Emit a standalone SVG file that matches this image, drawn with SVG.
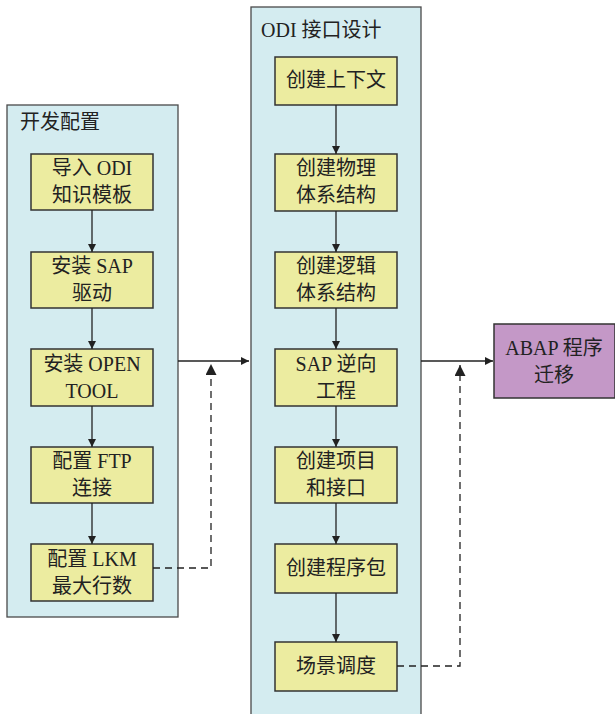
<svg xmlns="http://www.w3.org/2000/svg" width="615" height="714" viewBox="0 0 615 714">
<defs>
<style>
.grp{fill:#d4ecf0;stroke:#4a4a4a;stroke-width:1.3}
.nd{fill:#ececa0;stroke:#333;stroke-width:1.5}
.abap{fill:#c498c7;stroke:#333;stroke-width:1.5}
text{font-family:"Liberation Serif","Noto Sans CJK SC",serif;font-size:20px;fill:#222;dominant-baseline:central}
.c{text-anchor:middle}
.ln{stroke:#222;stroke-width:1.3;fill:none}
.ds{stroke:#222;stroke-width:1.3;fill:none;stroke-dasharray:7,5}
</style>
<marker id="ah" viewBox="0 0 10 10" refX="10" refY="5" markerWidth="8" markerHeight="8" markerUnits="userSpaceOnUse" orient="auto">
<path d="M0,0 L10,5 L0,10 z" fill="#222"/>
</marker>
<marker id="ah2" viewBox="0 0 10 10" refX="10" refY="5" markerWidth="11" markerHeight="11" markerUnits="userSpaceOnUse" orient="auto">
<path d="M0,0 L10,5 L0,10 z" fill="#222"/>
</marker>
</defs>
<g id="dev-config">
<rect class="grp" x="7" y="105" width="171" height="512"/>
<text x="20" y="122">开发配置</text>
</g>
<g id="odi-design">
<rect class="grp" x="251" y="7" width="170" height="720"/>
<text x="261" y="30">ODI 接口设计</text>
</g>
<g id="n-import">
<rect class="nd" x="31" y="154" width="122" height="56"/>
<text class="c" x="92" y="168">导入 ODI</text>
<text class="c" x="92" y="195">知识模板</text>
</g>
<g id="n-sap-driver">
<rect class="nd" x="31" y="252" width="122" height="56"/>
<text class="c" x="92" y="266">安装 SAP</text>
<text class="c" x="92" y="293">驱动</text>
</g>
<g id="n-opentool">
<rect class="nd" x="31" y="349" width="122" height="57"/>
<text class="c" x="92" y="364">安装 OPEN</text>
<text class="c" x="92" y="391">TOOL</text>
</g>
<g id="n-ftp">
<rect class="nd" x="31" y="447" width="122" height="56"/>
<text class="c" x="92" y="461">配置 FTP</text>
<text class="c" x="92" y="488">连接</text>
</g>
<g id="n-lkm">
<rect class="nd" x="31" y="544" width="122" height="57"/>
<text class="c" x="92" y="559">配置 LKM</text>
<text class="c" x="92" y="586">最大行数</text>
</g>
<g id="n-context">
<rect class="nd" x="275" y="57" width="122" height="48"/>
<text class="c" x="336" y="80">创建上下文</text>
</g>
<g id="n-physical">
<rect class="nd" x="275" y="154" width="122" height="57"/>
<text class="c" x="336" y="168">创建物理</text>
<text class="c" x="336" y="195">体系结构</text>
</g>
<g id="n-logical">
<rect class="nd" x="275" y="252" width="122" height="56"/>
<text class="c" x="336" y="266">创建逻辑</text>
<text class="c" x="336" y="293">体系结构</text>
</g>
<g id="n-reverse">
<rect class="nd" x="275" y="349" width="122" height="57"/>
<text class="c" x="336" y="364">SAP 逆向</text>
<text class="c" x="336" y="391">工程</text>
</g>
<g id="n-project">
<rect class="nd" x="275" y="447" width="122" height="56"/>
<text class="c" x="336" y="461">创建项目</text>
<text class="c" x="336" y="488">和接口</text>
</g>
<g id="n-package">
<rect class="nd" x="275" y="544" width="122" height="49"/>
<text class="c" x="336" y="568">创建程序包</text>
</g>
<g id="n-scene">
<rect class="nd" x="275" y="642" width="122" height="49"/>
<text class="c" x="336" y="666">场景调度</text>
</g>
<g id="n-abap">
<rect class="abap" x="494" y="324" width="121" height="74"/>
<text class="c" x="554" y="348">ABAP 程序</text>
<text class="c" x="554" y="375">迁移</text>
</g>
<g id="connectors">
<line class="ln" x1="92" y1="210" x2="92" y2="252" marker-end="url(#ah)"/>
<line class="ln" x1="92" y1="308" x2="92" y2="349" marker-end="url(#ah)"/>
<line class="ln" x1="92" y1="406" x2="92" y2="447" marker-end="url(#ah)"/>
<line class="ln" x1="92" y1="503" x2="92" y2="544" marker-end="url(#ah)"/>
<line class="ln" x1="336" y1="105" x2="336" y2="154" marker-end="url(#ah)"/>
<line class="ln" x1="336" y1="211" x2="336" y2="252" marker-end="url(#ah)"/>
<line class="ln" x1="336" y1="308" x2="336" y2="349" marker-end="url(#ah)"/>
<line class="ln" x1="336" y1="406" x2="336" y2="447" marker-end="url(#ah)"/>
<line class="ln" x1="336" y1="503" x2="336" y2="544" marker-end="url(#ah)"/>
<line class="ln" x1="336" y1="593" x2="336" y2="642" marker-end="url(#ah)"/>
<line class="ln" x1="178" y1="361" x2="249" y2="361" marker-end="url(#ah)"/>
<line class="ln" x1="421" y1="361" x2="493" y2="361" marker-end="url(#ah)"/>
<path class="ds" d="M153,568 H211 V364" marker-end="url(#ah2)"/>
<path class="ds" d="M397,666 H460 V365" marker-end="url(#ah2)"/>
</g>
</svg>
